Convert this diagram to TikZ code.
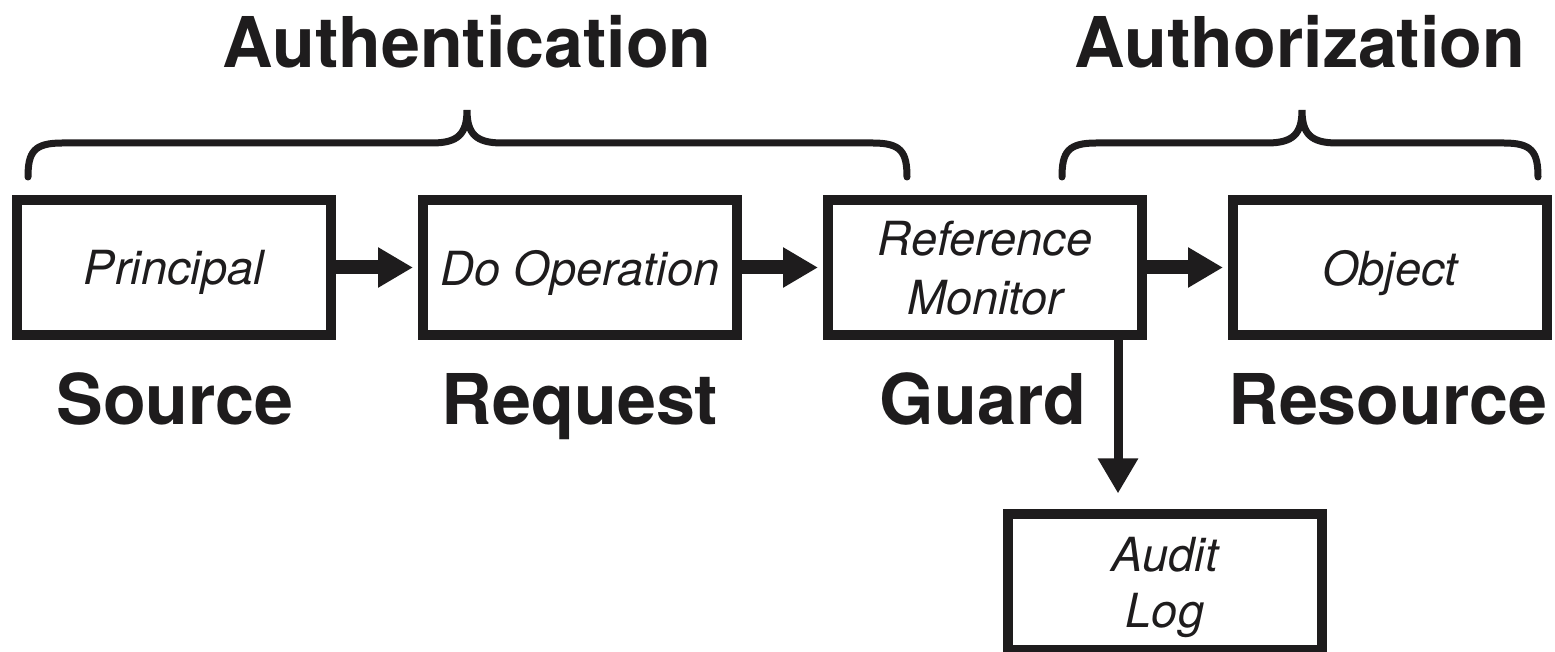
\documentclass[tikz,border=0pt]{standalone}
\usepackage{fontspec}
\setmainfont{TeX Gyre Heros}
\usetikzlibrary{arrows.meta,calc}
\definecolor{ink}{HTML}{1E1C1D}
\begin{document}
\begin{tikzpicture}[x=0.5pt,y=-0.5pt,
  box/.style={draw=ink,line width=5pt,minimum width=157pt,minimum height=67.5pt,inner sep=0pt,align=center,
    text depth=0pt,font=\fontsize{23.5}{29.5}\selectfont\itshape,text=ink},
  head/.style={font=\fontsize{35}{40}\selectfont\bfseries,text=ink,anchor=base,inner sep=0pt},
  flow/.style={draw=ink,line width=7pt,-{Triangle[length=17.5pt,width=19pt]},shorten >=2.5pt},
  brace/.style={draw=ink,line width=3.5pt,line cap=round}]
\useasboundingbox (0,0) rectangle (1555,652);

\node[box] (P) at (174,267.5) {Principal};
\node[box] (D) at (580,267.5) {Do Operation};
\node[box] (R) at (985,267.5) {Reference\\Monitor};
\node[box] (O) at (1390,267.5) {Object};
\node[box,font=\fontsize{23.5}{28}\selectfont\itshape] (A) at (1165,582) {Audit\\Log};

\draw[flow] (P) -- (D);
\draw[flow] (D) -- (R);
\draw[flow] (R) -- (O);
\draw[flow,line width=4.5pt,shorten >=8pt] ([xshift=66.5pt]R.south) -- ([xshift=66.5pt]R.south |- A.north);

\node[head] (t1) at (467,68) {Authentication};
\node[head] (t2) at (1300,68) {Authorization};
\node[head] (l1) at (175,425) {Source};
\node[head] (l2) at (580,425) {Request};
\node[head] (l3) at (983,425) {Guard};
\node[head] (l4) at (1388,425) {Resource};

\draw[brace] (28,177) .. controls (28,152) and (34,143) .. (62,143) -- (432,143)
  .. controls (458,143) and (467,134) .. (467,110)
  .. controls (467,134) and (476,143) .. (502,143) -- (873,143)
  .. controls (901,143) and (907,152) .. (907,177);
\draw[brace] (1062,177) .. controls (1062,152) and (1068,143) .. (1096,143) -- (1267,143)
  .. controls (1293,143) and (1302,134) .. (1302,110)
  .. controls (1302,134) and (1311,143) .. (1337,143) -- (1504,143)
  .. controls (1532,143) and (1538,152) .. (1538,177);
\end{tikzpicture}
\end{document}
